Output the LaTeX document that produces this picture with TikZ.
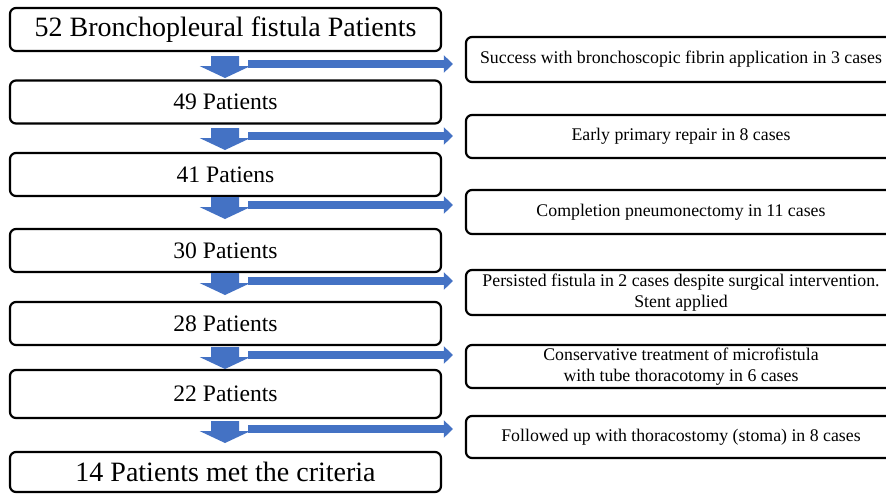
\documentclass[tikz,border=0pt]{standalone}
\usepackage{fontspec}
\setmainfont{Liberation Serif}
\usetikzlibrary{arrows.meta}
\definecolor{flowblue}{RGB}{68,114,196}
\tikzset{
  patbox/.style={draw,rounded corners=3pt,line width=1.1pt,minimum width=215.5pt,
    minimum height=21.5pt,inner sep=1pt,font=\fontsize{11.8}{13}\selectfont},
  casebox/.style={draw,rounded corners=3pt,line width=1.1pt,minimum width=215pt,
    minimum height=21.5pt,inner sep=1pt,align=center,font=\fontsize{8.9}{10.5}\selectfont},
  downarrow/.pic={
    \fill[flowblue] (-14,0) -- (14,0) -- (14,10) -- (25.5,10) -- (0,22)
      -- (-25.5,10) -- (-14,10) -- cycle;
    \coordinate (-side) at (23,8);
  },
  sidearrow/.style={flowblue,line width=4pt,-{Triangle[length=4.5pt,width=8.5pt]},shorten >=6pt}
}
\begin{document}
\begin{tikzpicture}[x=0.5pt,y=-0.5pt]
      \clip (0,0) rectangle (886,493);
      \node[patbox,font=\fontsize{14}{16}\selectfont] (p52) at (225.5,29.5) {52 Bronchopleural fistula Patients};
      \node[patbox] (p49) at (225.5,102) {49 Patients};
      \node[patbox] (p41) at (225.5,174.5) {41 Patiens};
      \node[patbox] (p30) at (225.5,250.5) {30 Patients};
      \node[patbox] (p28) at (225.5,323.5) {28 Patients};
      \node[patbox,minimum height=24pt] (p22) at (225.5,394) {22 Patients};
      \node[patbox,minimum height=20pt,font=\fontsize{14}{16}\selectfont] (p14) at (225.5,472) {14 Patients met the criteria};
      \node[casebox,minimum height=22.5pt] (fibrin) at (681,59.5) {Success with bronchoscopic fibrin application in 3 cases};
      \node[casebox] (repair) at (681,136.5) {Early primary repair in 8 cases};
      \node[casebox,minimum height=22pt] (pneumo) at (681,212) {Completion pneumonectomy in 11 cases};
      \node[casebox,minimum height=22.5pt] (stent) at (681,292.5) {Persisted fistula in 2 cases despite surgical intervention.\\Stent applied};
      \node[casebox] (tube) at (681,366.5) {Conservative treatment of microfistula\\with tube thoracotomy in 6 cases};
      \node[casebox,minimum height=21pt] (stoma) at (681,437) {Followed up with thoracostomy (stoma) in 8 cases};
      \pic (a1) at (225,56) {downarrow};
      \pic (a2) at (225,128) {downarrow};
      \pic (a3) at (225,197) {downarrow};
      \pic (a4) at (225,273) {downarrow};
      \pic (a5) at (225,347) {downarrow};
      \pic (a6) at (225,421) {downarrow};
      \begin{scope}[sidearrow]
        \draw (a1-side) -- (a1-side -| fibrin.west);
        \draw (a2-side) -- (a2-side -| repair.west);
        \draw (a3-side) -- (a3-side -| pneumo.west);
        \draw (a4-side) -- (a4-side -| stent.west);
        \draw (a5-side) -- (a5-side -| tube.west);
        \draw (a6-side) -- (a6-side -| stoma.west);
      \end{scope}
    \end{tikzpicture}
\end{document}
